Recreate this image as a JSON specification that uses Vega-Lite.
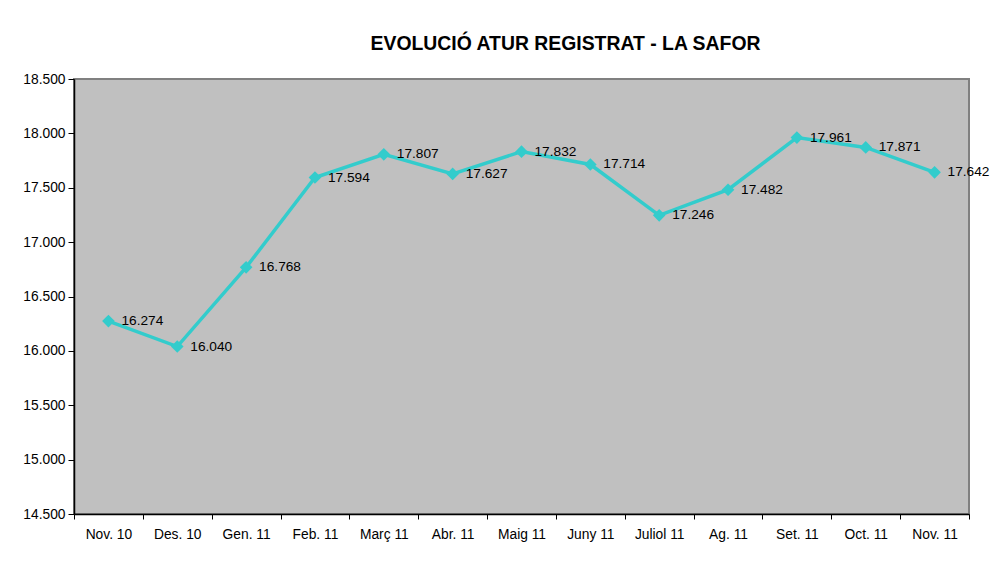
{
  "$schema": "https://vega.github.io/schema/vega-lite/v6.json",
  "autosize": "none",
  "width": 895,
  "height": 435,
  "padding": {"left": 74, "top": 79, "right": 21, "bottom": 65},
  "background": "white",
  "config": {
    "locale": {"number": {"decimal": ",", "thousands": ".", "grouping": [3], "currency": ["", " €"]}},
    "font": "Liberation Sans",
    "view": {"fill": "#C0C0C0", "stroke": "#808080", "strokeWidth": 2},
    "axis": {"grid": false, "domainColor": "black", "tickColor": "black", "labelColor": "black", "labelFont": "Liberation Sans", "labelFontSize": 13.8, "title": null}
  },
  "title": {"text": "EVOLUCIÓ ATUR REGISTRAT - LA SAFOR", "font": "Liberation Sans", "fontSize": 19.4, "fontWeight": "bold", "color": "black", "anchor": "middle", "dx": 44, "offset": 18},
  "data": {"values": [
    {"mes": "Nov. 10", "atur": 16274},
    {"mes": "Des. 10", "atur": 16040},
    {"mes": "Gen. 11", "atur": 16768},
    {"mes": "Feb. 11", "atur": 17594},
    {"mes": "Març 11", "atur": 17807},
    {"mes": "Abr. 11", "atur": 17627},
    {"mes": "Maig 11", "atur": 17832},
    {"mes": "Juny 11", "atur": 17714},
    {"mes": "Juliol 11", "atur": 17246},
    {"mes": "Ag. 11", "atur": 17482},
    {"mes": "Set. 11", "atur": 17961},
    {"mes": "Oct. 11", "atur": 17871},
    {"mes": "Nov. 11", "atur": 17642}
  ]},
  "encoding": {
    "x": {"field": "mes", "type": "nominal", "sort": null,
      "scale": {"type": "band", "paddingInner": 0, "paddingOuter": 0},
      "axis": {"labelAngle": 0, "tickBand": "extent", "tickSize": 5, "labelPadding": 8, "domainWidth": 1.5}},
    "y": {"field": "atur", "type": "quantitative",
      "scale": {"domain": [14500, 18500], "zero": false, "nice": false},
      "axis": {"values": [14500, 15000, 15500, 16000, 16500, 17000, 17500, 18000, 18500], "format": ",.0f", "tickSize": 6, "labelPadding": 3, "domainWidth": 1.5}}
  },
  "layer": [
    {"mark": {"type": "line", "color": "#33CCCC", "strokeWidth": 3.5}},
    {"mark": {"type": "point", "shape": "diamond", "filled": true, "opacity": 1, "color": "#33CCCC", "size": 160}},
    {"mark": {"type": "text", "align": "left", "baseline": "middle", "dx": 13, "fontSize": 13.7, "color": "black", "font": "Liberation Sans"},
      "encoding": {"text": {"field": "atur", "type": "quantitative", "format": ",.0f"}}}
  ]
}
